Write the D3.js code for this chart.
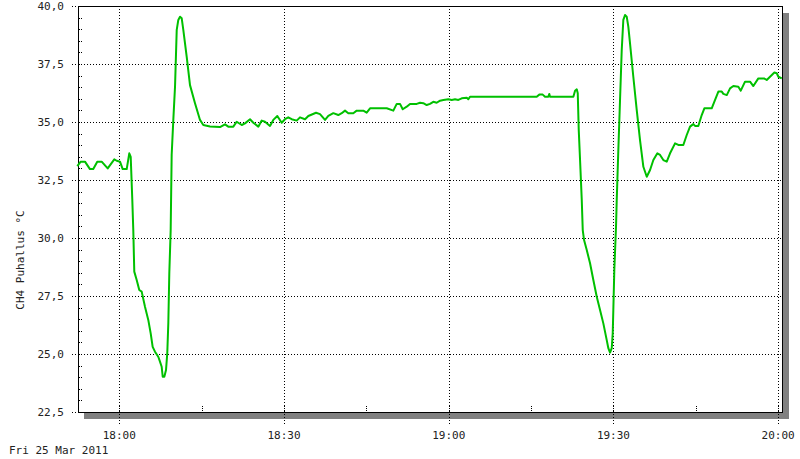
<!DOCTYPE html>
<html>
<head>
<meta charset="utf-8">
<script src="https://cdn.jsdelivr.net/npm/d3@7"></script>
<style>
  body { margin: 0; background: #fff; }
  svg { display: block; }
  text { font-family: "DejaVu Sans Mono", "Liberation Mono", monospace; font-size: 11px; fill: #222; }
</style>
</head>
<body>
<svg id="chart" width="800" height="459"></svg>
<script>
// minutes relative to 18:00 on Fri 25 Mar 2011
const minutes = [
  -7.65, -7.03, -6.25, -5.34, -4.74, -4.01, -3.21, -2.11, -0.91, -0.47, 0.13, 0.62, 1.35, 1.82, 2.08,
  2.37, 2.55, 2.73, 3.17, 3.64, 4.08, 4.68, 5.28, 5.72, 6.08, 6.5, 7.1, 7.41, 7.72, 7.91, 8.2, 8.51,
  8.74, 8.93, 9.11, 9.36, 9.54, 9.84, 10.15, 10.46, 10.75, 11.06, 11.37, 11.66, 12.28, 12.88, 13.79,
  14.7, 15.3, 16.52, 18.34, 19.25, 19.85, 20.77, 21.38, 22.3, 22.9, 23.81, 24.41, 25.32, 25.94, 26.54,
  27.45, 28.05, 28.78, 29.58, 30.18, 30.78, 31.4, 32.31, 32.91, 33.83, 34.43, 35.83, 36.56, 37.47,
  38.07, 38.98, 39.89, 40.51, 41.11, 41.71, 42.62, 43.24, 44.44, 45.06, 45.67, 47.49, 48.71, 49.91,
  50.53, 51.13, 51.62, 52.35, 52.95, 54.17, 54.77, 55.37, 55.99, 56.59, 57.19, 57.81, 58.42, 59.02,
  59.93, 60.55, 61.15, 61.75, 62.37, 63.28, 63.57, 63.88, 76.03, 76.5, 77.12, 77.54, 78.14, 78.32,
  78.45, 82.7, 83.01, 83.32, 83.5, 83.68, 83.92, 84.23, 84.41, 84.65, 85.14, 85.74, 86.34, 86.96,
  87.56, 88.16, 88.78, 89.07, 89.38, 89.69, 89.87, 89.98, 90.16, 90.47, 90.6, 90.89, 91.2, 91.51,
  91.8, 92.11, 92.42, 92.71, 93.02, 93.62, 94.24, 94.84, 95.45, 96.07, 96.67, 97.27, 98.0, 98.49,
  99.09, 99.71, 100.31, 101.22, 101.82, 102.73, 103.35, 103.95, 104.55, 104.86, 105.46, 106.08,
  106.56, 107.9, 108.51, 109.11, 109.73, 110.02, 110.64, 111.24, 111.84, 112.75, 113.19, 113.97,
  114.88, 115.48, 116.39, 117.43, 117.92, 118.52, 119.31, 119.75, 120.04, 120.66
];
const temps = [
  33.10, 33.29, 33.29, 32.97, 32.97, 33.29, 33.29, 33.00, 33.39, 33.33, 33.29, 32.97, 32.97, 33.65, 33.50,
  31.64, 30.34, 28.55, 28.19, 27.76, 27.69, 27.04, 26.47, 25.89, 25.31, 25.10, 24.88, 24.67, 24.45, 24.02, 24.02, 24.31,
  25.04, 26.34, 28.49, 30.34, 33.58, 35.09, 36.52, 38.97, 39.40, 39.54, 39.47, 38.97, 37.81, 36.59, 35.81,
  35.09, 34.87, 34.81, 34.78, 34.90, 34.80, 34.80, 35.01, 34.87, 34.94, 35.12, 34.97, 34.80, 35.06, 35.01,
  34.83, 35.09, 35.26, 34.97, 35.12, 35.20, 35.12, 35.06, 35.20, 35.12, 35.26, 35.40, 35.34, 35.09,
  35.26, 35.38, 35.30, 35.38, 35.49, 35.38, 35.38, 35.49, 35.49, 35.40, 35.59, 35.59, 35.59, 35.49,
  35.78, 35.78, 35.55, 35.66, 35.78, 35.78, 35.83, 35.81, 35.73, 35.78, 35.87, 35.83, 35.92, 35.95,
  35.98, 35.95, 35.98, 35.95, 36.02, 36.05, 35.98, 36.09, 36.09, 36.18, 36.18, 36.09, 36.09, 36.21,
  36.09, 36.09, 36.35, 36.41, 36.24, 34.66, 33.36, 31.64, 30.34, 29.91, 29.48, 28.91, 28.19, 27.47,
  26.90, 26.32, 25.60, 25.25, 25.06, 25.25, 25.89, 26.90, 28.62, 30.49, 31.64, 33.79, 35.95, 38.10,
  39.40, 39.61, 39.54, 39.11, 38.39, 36.95, 35.52, 34.22, 33.07, 32.64, 32.93, 33.36, 33.65, 33.58,
  33.36, 33.29, 33.65, 34.08, 34.01, 34.01, 34.44, 34.80, 34.91, 34.83, 34.83, 35.30,
  35.59, 35.59, 35.95, 36.31, 36.31, 36.21, 36.16, 36.45, 36.55, 36.52, 36.35, 36.74,
  36.74, 36.55, 36.88, 36.88, 36.81, 36.95, 37.13, 37.10, 36.95, 36.88
];
const yTicks = [22.5, 25, 27.5, 30, 32.5, 35, 37.5, 40];
const xTickLabels = ["18:00", "18:30", "19:00", "19:30", "20:00"];
const dateLabel = "Fri 25 Mar 2011";
const yTitle = "CH4 Puhallus °C";

const base = new Date(2011, 2, 25, 18, 0, 0);
const toDate = m => new Date(base.getTime() + m * 60000);
const parseHM = d3.timeParse("%Y-%m-%d %H:%M");
const data = minutes.map((m, i) => ({t: toDate(m), v: temps[i]}));

const plotLeft = 78, plotRight = 782, plotTop = 6, plotBottom = 412;
const svg = d3.select("#chart");

const x = d3.scaleTime()
    .domain([toDate(-7.52), toDate(120.7)])
    .range([plotLeft, plotRight]);
const y = d3.scaleLinear()
    .domain([22.5, 40])
    .range([plotBottom, plotTop]);

// shadow
svg.append("rect").attr("x", plotRight + 1).attr("y", plotTop + 7).attr("width", 6).attr("height", plotBottom - plotTop).attr("fill", "#808080");
svg.append("rect").attr("x", plotLeft + 6).attr("y", plotBottom + 1).attr("width", plotRight - plotLeft + 1).attr("height", 6).attr("fill", "#808080");
svg.append("rect").attr("x", plotLeft).attr("y", plotTop).attr("width", plotRight - plotLeft).attr("height", plotBottom - plotTop).attr("fill", "#fff");

// horizontal grid
const grid = svg.append("g");
grid.selectAll("line.h")
    .data(yTicks)
    .join("line")
    .attr("x1", plotLeft - 6).attr("x2", plotRight)
    .attr("y1", d => Math.round(y(d)) + 0.5).attr("y2", d => Math.round(y(d)) + 0.5)
    .attr("stroke", "#000").attr("stroke-dasharray", "1,2");

// minor y ticks
grid.selectAll("line.my")
    .data(d3.range(22.5, 40.01, 0.5))
    .join("line")
    .attr("x1", plotLeft + 1).attr("x2", plotLeft + 4)
    .attr("y1", d => Math.round(y(d)) + 0.5).attr("y2", d => Math.round(y(d)) + 0.5)
    .attr("stroke", "#000").attr("stroke-dasharray", "1,1");

// vertical grid
const xTickDates = xTickLabels.map(s => parseHM("2011-03-25 " + s));
grid.selectAll("line.v")
    .data(xTickDates)
    .join("line")
    .attr("x1", d => Math.round(x(d)) + 0.5).attr("x2", d => Math.round(x(d)) + 0.5)
    .attr("y1", plotTop).attr("y2", plotBottom + 12)
    .attr("stroke", "#000").attr("stroke-dasharray", "1,2");

// minor x ticks (every 15 min)
grid.selectAll("line.mx")
    .data(d3.timeMinute.every(15).range(x.domain()[0], x.domain()[1]))
    .join("line")
    .attr("x1", d => Math.round(x(d)) + 0.5).attr("x2", d => Math.round(x(d)) + 0.5)
    .attr("y1", plotBottom - 6).attr("y2", plotBottom - 1)
    .attr("stroke", "#000").attr("stroke-dasharray", "1,1");

// frame
svg.append("rect")
    .attr("x", plotLeft + 0.5).attr("y", plotTop + 0.5)
    .attr("width", plotRight - plotLeft).attr("height", plotBottom - plotTop)
    .attr("fill", "none").attr("stroke", "#000");

// labels
svg.append("g").selectAll("text")
    .data(yTicks)
    .join("text")
    .attr("x", 64).attr("y", d => y(d))
    .attr("dy", "0.35em")
    .attr("text-anchor", "end")
    .text(d => d3.format(".1f")(d).replace(".", ","));

svg.append("g").selectAll("text")
    .data(xTickDates)
    .join("text")
    .attr("x", d => x(d)).attr("y", 439)
    .attr("text-anchor", "middle")
    .text(d => d3.timeFormat("%H:%M")(d));

svg.append("text").attr("x", 9).attr("y", 454).text(dateLabel);

svg.append("text")
    .attr("transform", "translate(24,260) rotate(-90)")
    .attr("text-anchor", "middle")
    .text(yTitle);

// series
const line = d3.line()
    .x(d => x(d.t))
    .y(d => y(d.v));

svg.append("path")
    .datum(data)
    .attr("d", line)
    .attr("fill", "none")
    .attr("stroke", "#00c000")
    .attr("stroke-width", 2)
    .attr("stroke-linejoin", "round");
</script>
</body>
</html>
